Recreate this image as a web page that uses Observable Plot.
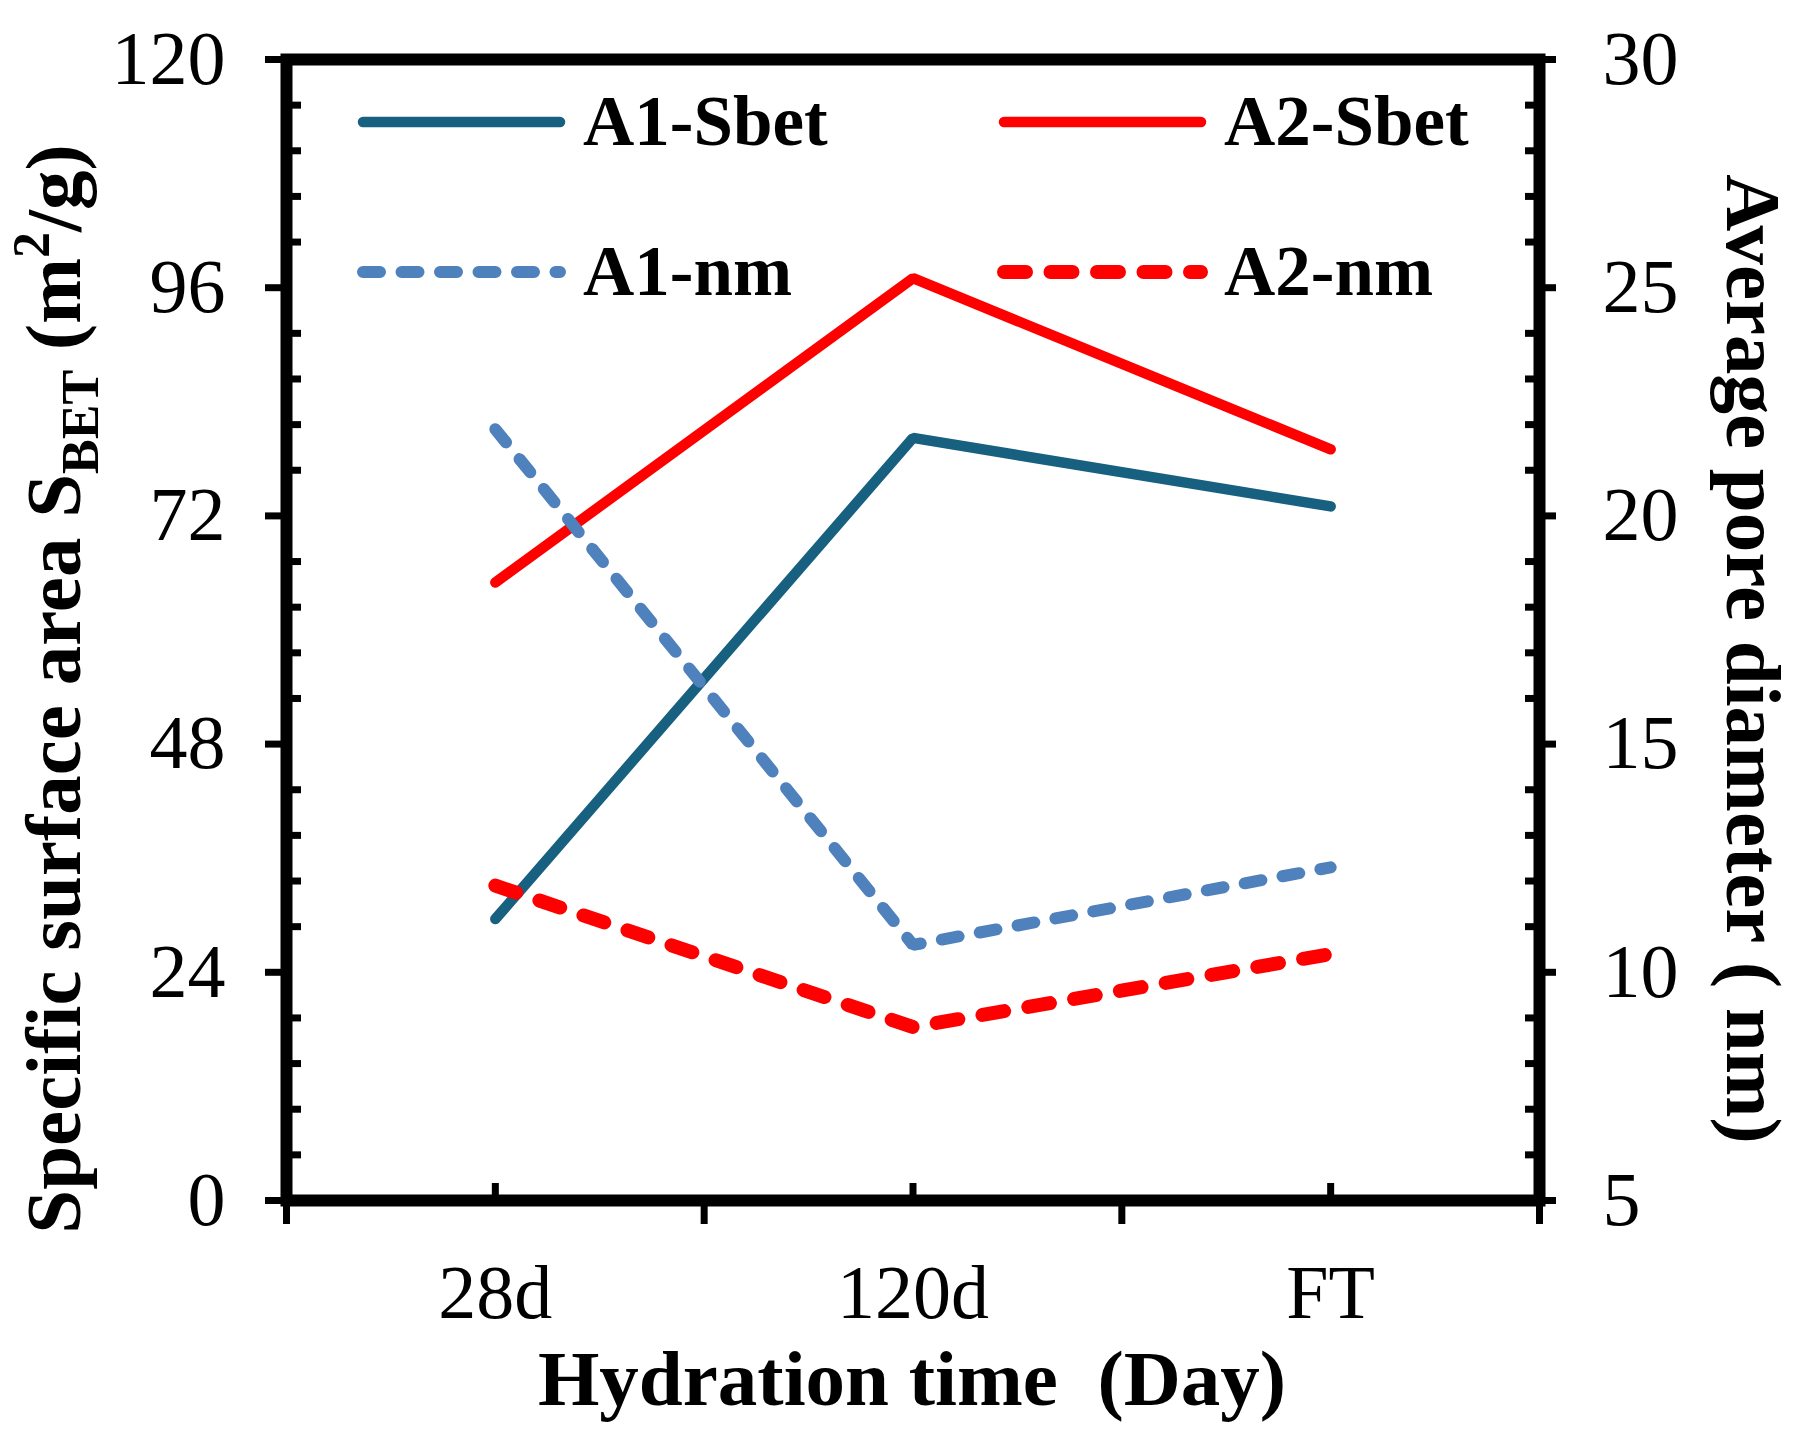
<!DOCTYPE html>
<html lang="en">
<head>
<meta charset="UTF-8">
<title>Specific surface area and pore diameter vs hydration time</title>
<script src="https://cdn.jsdelivr.net/npm/d3@7"></script>
<script src="https://cdn.jsdelivr.net/npm/@observablehq/plot@0.6"></script>
<style>
  body { margin: 0; background: white; }
  .serif-bold { font-family: "Liberation Serif", "Times New Roman", serif; font-weight: bold; }
</style>
</head>
<body>
<div id="chart"></div>
<script>
// values
const categories = ["28d", "120d", "FT"];
const a1Sbet = [29.6, 80.2, 73.0];   // m2/g, left axis
const a2Sbet = [65.0, 97.0, 79.0];
const a1Nm = [21.9, 10.6, 12.3];     // nm, right axis
const a2Nm = [11.9, 8.8, 10.4];

const leftTicks = [0, 24, 48, 72, 96, 120];
const rightTicks = [5, 10, 15, 20, 25, 30];

// right axis (5..30 nm) drawn on the left scale (0..120)
const toLeft = v => (v - 5) * 120 / 25;
const fromLeft = v => Math.round(v * 25 / 120 + 5);

const series = [
  {name: "A1-Sbet", values: a1Sbet, right: false, color: "#17607f", width: 10.5, dash: null},
  {name: "A2-Sbet", values: a2Sbet, right: false, color: "#ff0000", width: 10.5, dash: null},
  {name: "A1-nm", values: a1Nm, right: true, color: "#4f81bd", width: 12, dash: "17,21.5"},
  {name: "A2-nm", values: a2Nm, right: true, color: "#ff0000", width: 14, dash: "22,24.5"}
];

const rows = series.flatMap(s => s.values.map((v, i) => ({
  series: s.name,
  x: i + 0.5,
  y: s.right ? toLeft(v) : v
})));

const centers = categories.map((c, i) => i + 0.5);
const bounds = d3.range(categories.length + 1);
const leftMinor = d3.range(1, 25).filter(k => k % 5 !== 0).map(k => k * 4.8);
const rightMinor = d3.range(6, 30).filter(k => k % 5 !== 0).map(toLeft);

const chart = Plot.plot({
  width: 1804,
  height: 1440,
  marginLeft: 286,
  marginRight: 265,
  marginTop: 59,
  marginBottom: 240,
  x: {domain: [0, 3]},
  y: {domain: [0, 120]},
  style: {fontFamily: "Liberation Serif, serif", fontSize: "76px", color: "black", background: "white", overflow: "visible"},
  marks: [
    ...series.map(s => Plot.line(rows.filter(d => d.series === s.name), {
      x: "x", y: "y",
      stroke: s.color, strokeWidth: s.width, strokeDasharray: s.dash,
      strokeLinecap: "round", strokeLinejoin: "miter"
    })),
    Plot.frame({stroke: "black", strokeWidth: 12}),
    // left axis: major ticks outside, minor inside
    Plot.axisY(leftTicks, {tickSize: 21, tickPadding: 40, strokeWidth: 7, fontSize: 76, label: null}),
    Plot.axisY(leftMinor, {tickSize: 15, dx: 15, strokeWidth: 7, fill: "none", label: null}),
    // right axis
    Plot.axisY(rightTicks.map(toLeft), {anchor: "right", tickSize: 16, tickPadding: 47, strokeWidth: 7,
      fontSize: 76, tickFormat: fromLeft, label: null}),
    Plot.axisY(rightMinor, {anchor: "right", tickSize: 15, dx: -15, strokeWidth: 7, fill: "none", label: null}),
    // x axis: ticks inside at categories, outside at boundaries
    Plot.axisX(centers, {tickSize: 17, dy: -17, strokeWidth: 7, fill: "none", label: null}),
    Plot.axisX(bounds, {tickSize: 24, strokeWidth: 7, fill: "none", label: null}),
    Plot.axisX(centers, {tickSize: 0, tickPadding: 64, fontSize: 76,
      tickFormat: x => categories[Math.floor(x)], label: null})
  ]
});

const svg = d3.select(chart);

// legend inside the plot area
const legendX = [363, 1004];
const legendY = [122, 272];
const legend = svg.append("g")
  .attr("class", "serif-bold")
  .style("font-size", "71px")
  .attr("text-anchor", "start");

series.forEach((s, i) => {
  const x = legendX[i % 2];
  const y = legendY[Math.floor(i / 2)];
  legend.append("line")
    .attr("x1", x).attr("x2", x + 197)
    .attr("y1", y).attr("y2", y)
    .attr("stroke", s.color)
    .attr("stroke-width", s.width)
    .attr("stroke-linecap", "round")
    .attr("stroke-dasharray", s.dash);
  legend.append("text")
    .attr("x", x + 220)
    .attr("y", y + 23)
    .attr("fill", "black")
    .text(s.name);
});

// axis titles
const titles = svg.append("g")
  .attr("class", "serif-bold")
  .style("font-size", "79px")
  .attr("fill", "black")
  .attr("text-anchor", "middle");

titles.append("text")
  .attr("transform", "translate(912,1405)")
  .text("Hydration time  (Day)");

const leftTitle = titles.append("text")
  .attr("transform", "translate(80,689) rotate(-90)");
leftTitle.append("tspan").text("Specific surface area S");
leftTitle.append("tspan").style("font-size", "52px").attr("dy", 18).text("BET");
leftTitle.append("tspan").attr("dy", -18).text(" (m");
leftTitle.append("tspan").style("font-size", "52px").attr("dy", -31).text("2");
leftTitle.append("tspan").attr("dy", 31).text("/g)");

titles.append("text")
  .attr("transform", "translate(1727,659) rotate(90)")
  .text("Average pore diameter ( nm)");

document.getElementById("chart").appendChild(chart);
</script>
</body>
</html>
